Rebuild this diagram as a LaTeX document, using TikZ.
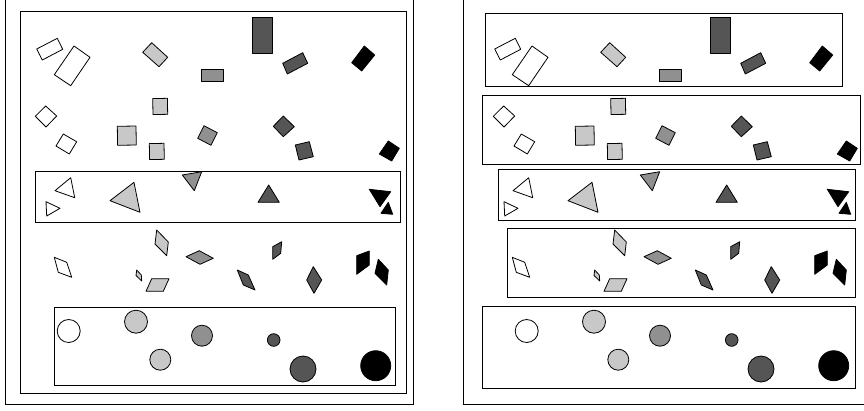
\documentclass[tikz,border=0pt]{standalone}
\definecolor{lg}{HTML}{C8C8C8}
\definecolor{mg}{HTML}{909090}
\definecolor{dg}{HTML}{555555}
\tikzset{
  sh/.style={draw=black, line width=0.8pt, line join=round},
  boxl/.style={draw=black, line width=0.8pt},
}
\newcommand\myshapes{%
  % row 1 rectangles
  \draw[sh,fill=white] (36.7,49) -- (57.3,38.3) -- (62.7,49.3) -- (42.3,60) -- cycle;
  \draw[sh,fill=white] (74,46) -- (90,57.3) -- (70.7,85.7) -- (54.3,74.7) -- cycle;
  \draw[sh,fill=lg] (151.7,42.7) -- (167.7,57.3) -- (159,66.7) -- (142.7,52.3) -- cycle;
  \draw[sh,fill=mg] (201,69) rectangle (223.3,81.7);
  \draw[sh,fill=dg] (252.3,17.3) rectangle (272.7,53.3);
  \draw[sh,fill=dg] (282.7,63.3) -- (302.7,52.7) -- (307.7,63.3) -- (287.3,74) -- cycle;
  \draw[sh,fill=black] (364.3,46) -- (374.7,55) -- (361.7,71) -- (351.7,62.7) -- cycle;
  % row 2 squares
  \draw[sh,fill=white] (45.7,106) -- (56.7,116) -- (46,127) -- (35.3,116.3) -- cycle;
  \draw[sh,fill=white] (63.3,134) -- (76.7,141.7) -- (69.3,154) -- (56,146) -- cycle;
  \draw[sh,fill=lg] (117.3,126.3) -- (136,126) -- (136.3,145) -- (117.6,145.3) -- cycle;
  \draw[sh,fill=lg] (152.7,98.6) -- (167.4,98.3) -- (167.7,114.3) -- (153,114.6) -- cycle;
  \draw[sh,fill=lg] (149.3,143.6) -- (164,143.3) -- (164.3,159.3) -- (149.6,159.6) -- cycle;
  \draw[sh,fill=mg] (204,125.7) -- (217.3,132.7) -- (211,145.3) -- (197.7,138.3) -- cycle;
  \draw[sh,fill=dg] (283.3,116) -- (294.3,126.7) -- (283.3,136.7) -- (273.3,126.3) -- cycle;
  \draw[sh,fill=dg] (295.3,145) -- (309.3,141.7) -- (313.3,156.7) -- (299,160) -- cycle;
  \draw[sh,fill=black] (388.3,141) -- (399.3,148.3) -- (391.7,161) -- (379.3,154) -- cycle;
  % row 3 triangles
  \draw[sh,fill=white] (70.7,177.7) -- (74.7,197.7) -- (55,190.7) -- cycle;
  \draw[sh,fill=white] (46,201.7) -- (60,208.3) -- (46.7,216) -- cycle;
  \draw[sh,fill=lg] (134,182.3) -- (140,212.3) -- (110,200.7) -- cycle;
  \draw[sh,fill=mg] (182.3,175) -- (201.7,171.7) -- (194.3,190.7) -- cycle;
  \draw[sh,fill=dg] (268.7,185) -- (279.3,202.3) -- (258,202.3) -- cycle;
  \draw[sh,fill=black] (369.3,189.3) -- (390.7,191.7) -- (380,206.7) -- cycle;
  \draw[sh,fill=black] (388.3,202.3) -- (392.7,214.3) -- (381,213.3) -- cycle;
  % row 4 rhombi
  \draw[sh,fill=white] (54.3,257.3) -- (66.7,262.3) -- (71.7,277.3) -- (58.3,272.3) -- cycle;
  \draw[sh,fill=lg] (156.7,230) -- (168.3,242) -- (166.7,255.7) -- (155,244) -- cycle;
  \draw[sh,fill=lg] (136.7,270) -- (141.3,275) -- (141.7,281) -- (136,275.5) -- cycle;
  \draw[sh,fill=lg] (151.7,278.7) -- (169,278.7) -- (163.3,291.3) -- (146,291.3) -- cycle;
  \draw[sh,fill=mg] (186,256.7) -- (199.3,250.7) -- (213.3,258.3) -- (200,264.3) -- cycle;
  \draw[sh,fill=dg] (237.3,270) -- (248.3,275) -- (255,290) -- (243.3,285) -- cycle;
  \draw[sh,fill=dg] (272.7,246.7) -- (281.7,241.7) -- (280.7,253.3) -- (272.7,259.3) -- cycle;
  \draw[sh,fill=dg] (313.3,266.7) -- (321.7,280) -- (314,293.3) -- (306.7,280) -- cycle;
  \draw[sh,fill=black] (356.7,255.7) -- (369.3,251) -- (369.3,265) -- (356.7,274.3) -- cycle;
  \draw[sh,fill=black] (378.3,259.3) -- (388.3,270) -- (386.7,285) -- (375,273.3) -- cycle;
  % row 5 circles
  \draw[sh,fill=white] (68.7,331) circle[radius=11.5pt];
  \draw[sh,fill=lg] (136,321.7) circle[radius=11.5pt];
  \draw[sh,fill=lg] (160.3,359.7) circle[radius=10.5pt];
  \draw[sh,fill=mg] (202,335.7) circle[radius=10.5pt];
  \draw[sh,fill=dg] (273.7,340) circle[radius=6.3pt];
  \draw[sh,fill=dg] (303,369) circle[radius=13pt];
  \draw[sh,fill=black] (375.7,365.7) circle[radius=15pt];
}
\begin{document}
\begin{tikzpicture}[x=1pt,y=-1pt]
  \useasboundingbox (0,0) rectangle (864,410);
  \clip (0,0) rectangle (864,410);
  % left panel
  \draw[boxl] (5,-5) rectangle (413,404);
  \draw[boxl] (20,11) rectangle (406.5,393);
  \draw[boxl] (35.7,171.7) rectangle (400.7,222.3);
  \draw[boxl] (54.3,307.7) rectangle (395,385);
  \myshapes
  % right panel
  \draw[boxl] (463,-5) rectangle (870,404);
  \draw[boxl] (485.7,13.3) rectangle (842.3,86.7);
  \draw[boxl] (482.3,95.3) rectangle (860.7,164);
  \draw[boxl] (498.3,169) rectangle (855.7,220);
  \draw[boxl] (507.3,228.3) rectangle (855,297.3);
  \draw[boxl] (482.3,306) rectangle (855,388.3);
  \begin{scope}[xshift=458pt]
    \myshapes
  \end{scope}
\end{tikzpicture}
\end{document}
